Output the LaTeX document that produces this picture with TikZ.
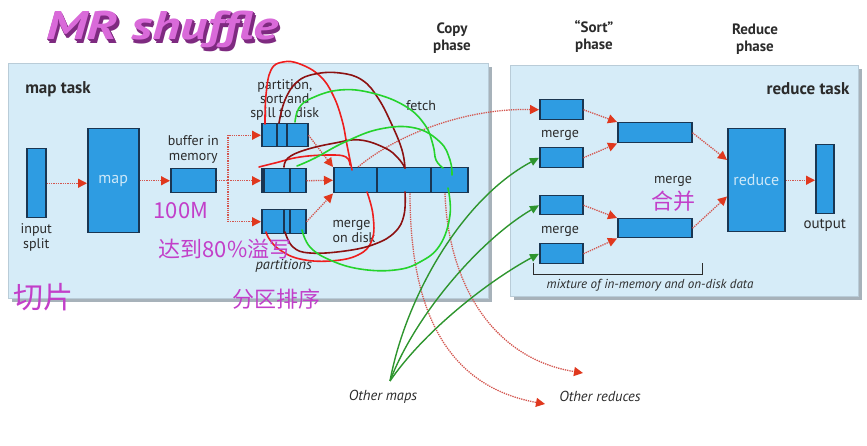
\documentclass[tikz,border=0pt]{standalone}
\usepackage{fontspec}
\setmainfont{PT Sans}
\newfontfamily\cjk{Noto Sans CJK SC}
\usepackage{tikz}
\usetikzlibrary{arrows.meta,positioning}

\definecolor{panelblue}{HTML}{D6ECF8}
\definecolor{panelline}{HTML}{B9CCD8}
\definecolor{panelshade}{HTML}{A7B2BA}
\definecolor{boxblue}{HTML}{2E9CE2}
\definecolor{boxline}{HTML}{1A3652}
\definecolor{dotred}{HTML}{D3554E}
\definecolor{tipred}{HTML}{E0381E}
\definecolor{ink}{HTML}{2B2B2B}
\definecolor{boxtext}{HTML}{CDE8F8}
\definecolor{note}{HTML}{C23FC9}
\definecolor{titlepink}{HTML}{D96AD9}
\definecolor{titledeep}{HTML}{7E2A80}
\definecolor{penred}{HTML}{EE1D1D}
\definecolor{pendark}{HTML}{8C1111}
\definecolor{pengreen}{HTML}{25D32C}
\definecolor{mapgreen}{HTML}{2E952E}

\newcommand\titlelayer[2]{\rlap{\kern#1\raisebox{-#2}{\textcolor{titledeep}{MR shuffle}}}}

\begin{document}
\begin{tikzpicture}[x=1pt,y=-1pt,
  box/.style={draw=boxline,fill=boxblue,line width=1.5pt,inner sep=0pt,anchor=north west},
  lbl/.style={text=ink,font=\fontsize{14}{15}\selectfont,align=center,inner sep=1pt},
  ital/.style={lbl,font=\fontsize{14.5}{15}\selectfont\itshape},
  head/.style={lbl,font=\fontsize{15}{17}\selectfont\bfseries},
  intext/.style={text=boxtext,font=\fontsize{16}{16}\selectfont},
  note/.style={text=note,inner sep=0pt,font=\cjk\fontsize{22}{22}\selectfont},
  title/.style={font=\fontsize{40}{40}\selectfont\bfseries\itshape,xscale=1.33},
  flow/.style={dotred,densely dotted,line width=1.3pt,
    -{Triangle[length=9pt,width=9pt,color=tipred,fill=tipred]}},
  mapflow/.style={mapgreen,line width=1.4pt,-{Triangle[length=9pt,width=8pt]}},
  pen/.style={line width=1.6pt,line cap=round,line join=round},
  divider/.style={boxline,line width=1.3pt}]

\useasboundingbox (0,0) rectangle (867,446);

% panels
\fill[panelshade] (12,67) rectangle (492,302);
\draw[panelline,fill=panelblue] (8,63) rectangle (488,298);
\fill[panelshade] (514,69) rectangle (862,300);
\draw[panelline,fill=panelblue] (510,65) rectangle (858,296);

% title
\node[title] (title) at (162,31)
  {\titlelayer{2pt}{4pt}\titlelayer{1.4pt}{2.8pt}\titlelayer{0.7pt}{1.4pt}\textcolor{titlepink}{MR shuffle}};

\node[head] (copyph)   at (452,38) {Copy\\phase};
\node[head] (sortph)   at (594,37) {``Sort''\\phase};
\node[head] (reduceph) at (755,39) {Reduce\\phase};
\node[head,font=\fontsize{17}{17}\selectfont\bfseries] (maptask)    at (58,89) {map task};
\node[head,font=\fontsize{17}{17}\selectfont\bfseries] (reducetask) at (808,89) {reduce task};

% map side
\node[box,minimum width=19pt,minimum height=69pt]  (split)  at (26,148) {};
\node[box,minimum width=51pt,minimum height=104pt] (map)    at (87,128) {};
\node[intext] at (map.center) {map};
\node[box,minimum width=45pt,minimum height=24pt]  (buffer) at (170,168) {};
\node[box,minimum width=46pt,minimum height=23pt]  (spillA) at (261,123) {};
\node[box,minimum width=44pt,minimum height=24pt]  (spillB) at (261,168) {};
\node[box,minimum width=44pt,minimum height=24pt]  (spillC) at (261,209) {};
\node[box,minimum width=134pt,minimum height=25pt] (disk)   at (333,167) {};

\foreach \n/\s in {spillA/16,spillA/26,spillB/3,spillB/29,spillC/23,spillC/29,disk/44,disk/98}
  \draw[divider] ([xshift=\s pt]\n.north west) -- ([xshift=\s pt]\n.south west);

\node[lbl,below=4pt of split] (splitlbl) {input\\split};
\node[lbl,above=3pt of buffer] (bufferlbl) {buffer in\\memory};
\node[lbl,font=\fontsize{14}{14}\selectfont,above=1pt of spillA] (spilllbl) {partition,\\sort and\\spill to disk};
\node[ital,below=24pt of spillC] (partlbl) {partitions};
\node[lbl,align=left] (mergedisk) at (354,232) {merge\\on disk};
\node[lbl] (fetch) at (421,106) {fetch};

\coordinate (fork) at (228,180);
\path[flow]
  (split.east) edge (split.east -| map.west)
  (map.east) edge (map.east -| buffer.west)
  (buffer.east) edge (spillB.west)
  (spillA.east) edge (disk.north west)
  (spillB.east) edge (disk.west)
  (spillC.east) edge (disk.south west);
\draw[flow] (fork) |- (spillA.west);
\draw[flow] (fork) |- (spillC.west);

% reduce side
\node[box,minimum width=43pt,minimum height=20pt] (mA) at (539,99) {};
\node[box,minimum width=43pt,minimum height=20pt] (mB) at (539,147) {};
\node[box,minimum width=43pt,minimum height=19pt] (mC) at (539,195) {};
\node[box,minimum width=43pt,minimum height=20pt] (mD) at (539,243) {};
\node[box,minimum width=74pt,minimum height=20pt] (midA) at (617,122) {};
\node[box,minimum width=74pt,minimum height=19pt] (midB) at (617,218) {};
\node[box,minimum width=57pt,minimum height=103pt] (reduce) at (727,128) {};
\node[intext] at (reduce.center) {reduce};
\node[box,minimum width=18pt,minimum height=69pt] (output) at (815,144) {};

\node[lbl] (mergeA) at (560,135) {merge};
\node[lbl] (mergeB) at (560,231) {merge};
\node[lbl] (mergeC) at (673,181) {merge};
\node[lbl,font=\fontsize{15}{15}\selectfont,below=3pt of output] (outlbl) {output};
\draw[ink,line width=0.6pt] (533,263) -- (533,274) -- (702,274) -- (702,263);
\node[ital,font=\fontsize{13}{13}\selectfont\itshape] (mixture) at (650,285) {mixture of in-memory and on-disk data};

\path[flow]
  (mA.east) edge (midA.north west)
  (mB.east) edge (midA.south west)
  (mC.east) edge (midB.north west)
  (mD.east) edge (midB.south west)
  (midA.east) edge ([yshift=-32pt]reduce.north west)
  (midB.east) edge ([yshift=36pt]reduce.south west)
  (reduce.east) edge (reduce.east -| output.west);

% between tasks
\coordinate (omaps) at (390,381);
\coordinate (oredA) at (545,404);
\coordinate (oredB) at (583,373);
\node[ital] (othermaps) at (383,397) {Other maps};
\node[ital] (otherred)  at (600,396) {Other reduces};

\draw[flow] ([xshift=25pt]disk.north west) .. controls (400,132) and (470,108) .. (mA.west);
\draw[flow] ([xshift=77pt]disk.south west) .. controls (410,300) and (440,385) .. (oredA);
\draw[flow] ([xshift=112pt]disk.south west) .. controls (448,280) and (490,358) .. (oredB);
\draw[mapflow] (omaps) .. controls (405,300) and (460,200) .. (mB.west);
\draw[mapflow] (omaps) .. controls (415,315) and (480,240) .. (mC.west);
\draw[mapflow] (omaps) .. controls (425,330) and (490,280) .. (mD.west);

% hand notes
\draw[pen,penred] plot[smooth,tension=0.7] coordinates {(265,124) (266,95) (271,70) (283,62) (300,64) (320,76) (333,95) (342,120) (347,145) (352,170)};
\draw[pen,penred] plot[smooth,tension=0.7] coordinates {(259,167) (275,163) (300,157) (330,155) (346,157) (350,165)};
\draw[pen,penred] plot[smooth,tension=0.7] coordinates {(367,192) (373,215) (372,240) (358,255) (330,261) (300,259) (280,250) (270,240) (266,232)};
\draw[pen,pendark] plot[smooth,tension=0.7] coordinates {(279,123) (285,100) (297,82) (315,74) (340,73) (362,80) (378,98) (392,125) (402,150) (405,168)};
\draw[pen,pendark] plot[smooth,tension=0.7] coordinates {(284,167) (288,158) (305,150) (335,143) (360,140) (385,148) (398,158) (405,168)};
\draw[pen,pendark] plot[smooth,tension=0.7] coordinates {(405,192) (404,215) (395,232) (375,244) (345,251) (310,253) (293,247) (285,232)};
\draw[pen,pengreen] plot[smooth,tension=0.7] coordinates {(295,122) (299,108) (312,98) (340,90) (372,93) (405,106) (425,125) (433,145) (436,160) (443,168)};
\draw[pen,pengreen] plot[smooth,tension=0.7] coordinates {(297,166) (315,158) (345,142) (380,129) (415,128) (440,142) (450,160) (452,175)};
\draw[pen,pengreen] plot[smooth,tension=0.7] coordinates {(448,188) (450,215) (440,245) (420,262) (395,270) (360,269) (330,260) (310,247) (302,230)};

\node[note] (hundred) at (181,211) {100M};
\node[note] (spill80) at (225,249) {达到80\%溢写};
\node[note,font=\cjk\fontsize{30}{30}\selectfont] (slice) at (43,297) {切片};
\node[note] (sortpart) at (276,299) {分区排序};
\node[note] (combine) at (673,201) {合并};
\end{tikzpicture}
\end{document}
